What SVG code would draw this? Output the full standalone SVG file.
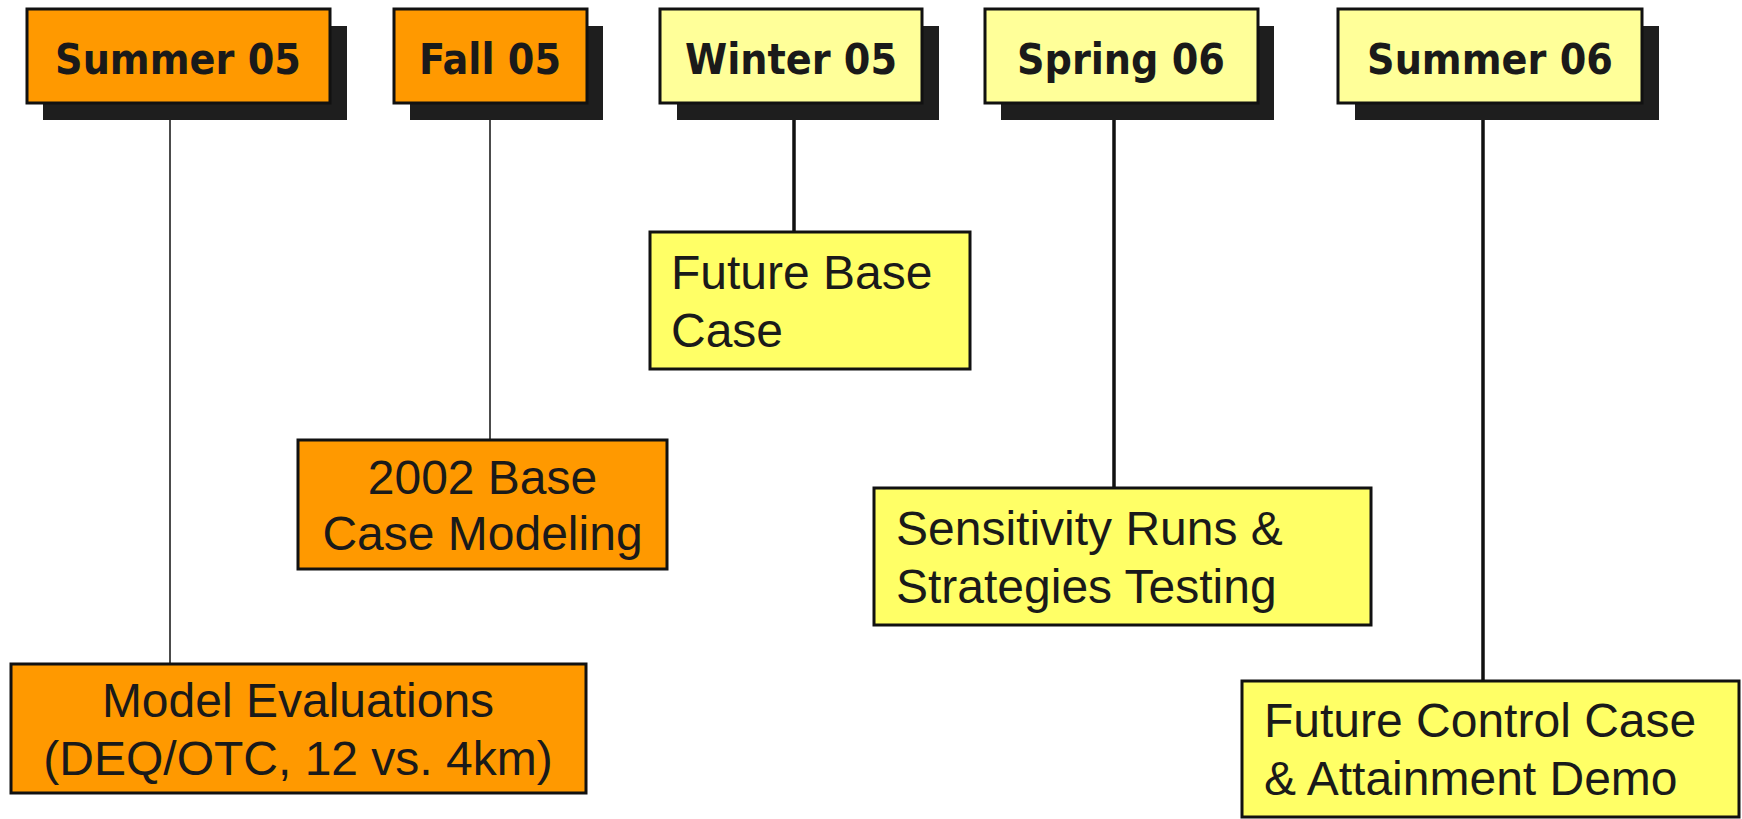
<svg xmlns="http://www.w3.org/2000/svg" width="1742" height="819" viewBox="0 0 1742 819">
<style>
.shadow{fill:#1e1e1e}
.hdr{stroke:#111;stroke-width:3}
.org{fill:#FF9900}
.lt{fill:#FFFF99}
.yl{fill:#FFFF66}
.box{stroke:#111;stroke-width:3}
.ht{font-family:"DejaVu Sans Condensed","DejaVu Sans",sans-serif;font-stretch:condensed;font-weight:bold;font-size:42.5px;fill:#1a1a1a;text-anchor:middle}
.bt{font-family:"Liberation Sans",Arial,sans-serif;font-size:48px;fill:#1a1a1a}
.c{text-anchor:middle}
.thin{stroke:#111;stroke-width:1.5;fill:none}
.thick{stroke:#111;stroke-width:3.5;fill:none}
</style>
<rect width="1742" height="819" fill="#fff"/>
<g id="connectors">
<line class="thin" x1="170" y1="103" x2="170" y2="664"/>
<line class="thin" x1="490" y1="103" x2="490" y2="440"/>
<line class="thick" x1="794" y1="103" x2="794" y2="232"/>
<line class="thick" x1="1114" y1="103" x2="1114" y2="488"/>
<line class="thick" x1="1483" y1="103" x2="1483" y2="681"/>
</g>
<g id="summer05">
<rect class="shadow" x="43" y="26" width="304" height="94"/>
<rect class="org hdr" x="27" y="9" width="303" height="94"/>
<text class="ht" x="178" y="74">Summer 05</text>
</g>
<g id="fall05">
<rect class="shadow" x="410" y="26" width="193" height="94"/>
<rect class="org hdr" x="394" y="9" width="193" height="94"/>
<text class="ht" x="490" y="74">Fall 05</text>
</g>
<g id="winter05">
<rect class="shadow" x="677" y="26" width="262" height="94"/>
<rect class="lt hdr" x="660" y="9" width="262" height="94"/>
<text class="ht" x="791" y="74">Winter 05</text>
</g>
<g id="spring06">
<rect class="shadow" x="1001" y="26" width="273" height="94"/>
<rect class="lt hdr" x="985" y="9" width="273" height="94"/>
<text class="ht" x="1121" y="74">Spring 06</text>
</g>
<g id="summer06">
<rect class="shadow" x="1355" y="26" width="304" height="94"/>
<rect class="lt hdr" x="1338" y="9" width="304" height="94"/>
<text class="ht" x="1490" y="74">Summer 06</text>
</g>
<g id="future-base-case">
<rect class="yl box" x="650" y="232" width="320" height="137"/>
<text class="bt" x="671" y="289">Future Base</text>
<text class="bt" x="671" y="347">Case</text>
</g>
<g id="base-case-2002">
<rect class="org box" x="298" y="440" width="369" height="129"/>
<text class="bt c" x="482.5" y="494">2002 Base</text>
<text class="bt c" x="482.5" y="550">Case Modeling</text>
</g>
<g id="model-evaluations">
<rect class="org box" x="11" y="664" width="575" height="129"/>
<text class="bt c" x="298" y="717">Model Evaluations</text>
<text class="bt c" x="298" y="775">(DEQ/OTC, 12 vs. 4km)</text>
</g>
<g id="sensitivity">
<rect class="yl box" x="874" y="488" width="497" height="137"/>
<text class="bt" x="896" y="545">Sensitivity Runs &amp;</text>
<text class="bt" x="896" y="603">Strategies Testing</text>
</g>
<g id="future-control">
<rect class="yl box" x="1242" y="681" width="497" height="136"/>
<text class="bt" x="1264" y="737">Future Control Case</text>
<text class="bt" x="1264" y="795">&amp; Attainment Demo</text>
</g>
</svg>
